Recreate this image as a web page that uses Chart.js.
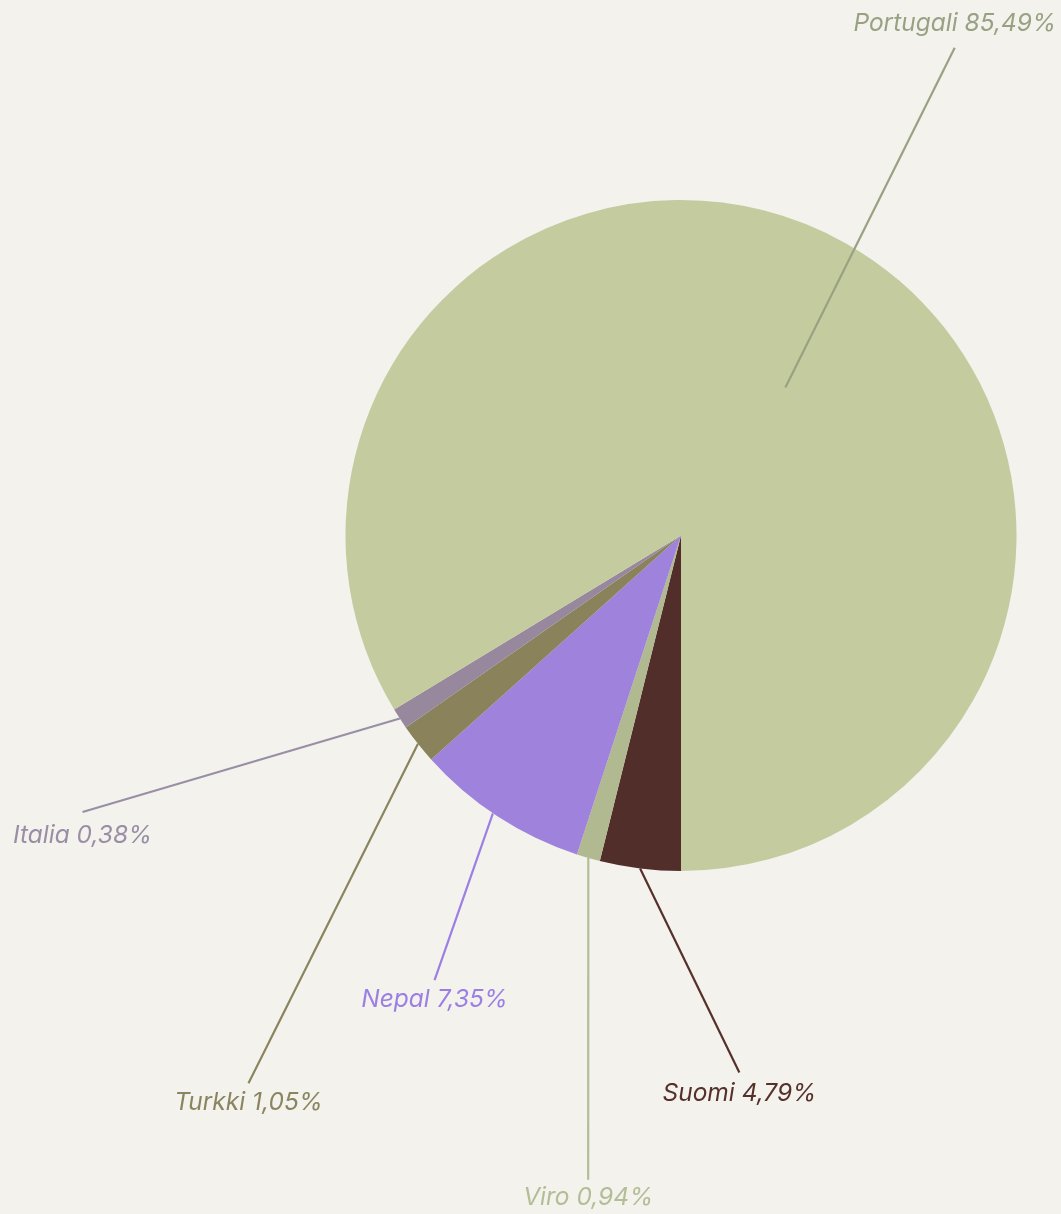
<!DOCTYPE html>
<html>
<head>
<meta charset="utf-8">
<script src="https://cdn.jsdelivr.net/npm/chart.js@4.4.1/dist/chart.umd.min.js"></script>
<style>
  html, body { margin: 0; padding: 0; background: #f3f2ed; }
  #wrap { position: relative; width: 1061px; height: 1214px; }
</style>
</head>
<body>
<div id="wrap"><canvas id="pieChart"></canvas></div>
<script>
// ---- data (clockwise from 6 o'clock) ----
const countries = ["Suomi", "Viro", "Nepal", "Turkki", "Italia", "Portugali"];
const sliceValues = [3.89, 1.13, 8.35, 1.94, 1.01, 83.68];   // share of the circle as drawn
const shareLabels = ["4,79%", "0,94%", "7,35%", "1,05%", "0,38%", "85,49%"];

const sliceColors = ["#512e2a", "#b0b98f", "#9e82dc", "#8a825b", "#97889e", "#c4cc9f"];
const labelColors = ["#56312c", "#b3bd96", "#9d7fe3", "#8a845f", "#9a8ea6", "#98a283"];

// leader line layout: where the line starts (radius factor, angle tweak) and ends (angle deg, radius factor)
const leaderStart = [[1, 0], [1, 0], [1, 1], [1, 0], [1, 0], [0.54, 5.8]];
const leaderEnd = [[83.8, 1.61], [98.2, 1.94], [119.0, 1.515], [128.3, 2.08], [155.2, 1.965], [-60.7, 1.667]];
const textOffset = [21, 18, 20, 19, 24, -24];

const deg = Math.PI / 180;

const leaderLabels = {
  id: "leaderLabels",
  afterDatasetsDraw(chart) {
    const ctx = chart.ctx;
    const arcs = chart.getDatasetMeta(0).data;
    ctx.save();
    arcs.forEach((arc, i) => {
      const cx = arc.x, cy = arc.y, R = arc.outerRadius;
      const mid = (arc.startAngle + arc.endAngle) / 2 + leaderStart[i][1] * deg;
      const sx = cx + Math.cos(mid) * R * leaderStart[i][0];
      const sy = cy + Math.sin(mid) * R * leaderStart[i][0];
      const ea = leaderEnd[i][0] * deg;
      const ex = cx + Math.cos(ea) * R * leaderEnd[i][1];
      const ey = cy + Math.sin(ea) * R * leaderEnd[i][1];

      ctx.strokeStyle = labelColors[i];
      ctx.lineWidth = 2.2;
      ctx.beginPath();
      ctx.moveTo(sx, sy);
      ctx.lineTo(ex, ey);
      ctx.stroke();

      ctx.fillStyle = labelColors[i];
      ctx.font = "italic 400 24.5px Inter, 'DejaVu Sans', sans-serif";
      ctx.textAlign = "center";
      ctx.textBaseline = "middle";
      ctx.fillText(countries[i] + " " + shareLabels[i], ex, ey + textOffset[i]);
    });
    ctx.restore();
  }
};

const pieChart = new Chart(document.getElementById("pieChart"), {
  type: "pie",
  data: {
    labels: countries,
    datasets: [{
      data: sliceValues,
      backgroundColor: sliceColors,
      borderWidth: 0
    }]
  },
  options: {
    responsive: true,
    maintainAspectRatio: false,
    animation: false,
    rotation: 180,
    layout: {
      padding: { left: 345, right: 44, top: 200, bottom: 343 }
    },
    plugins: {
      legend: { display: false },
      tooltip: { enabled: false }
    }
  },
  plugins: [leaderLabels]
});
</script>
</body>
</html>
